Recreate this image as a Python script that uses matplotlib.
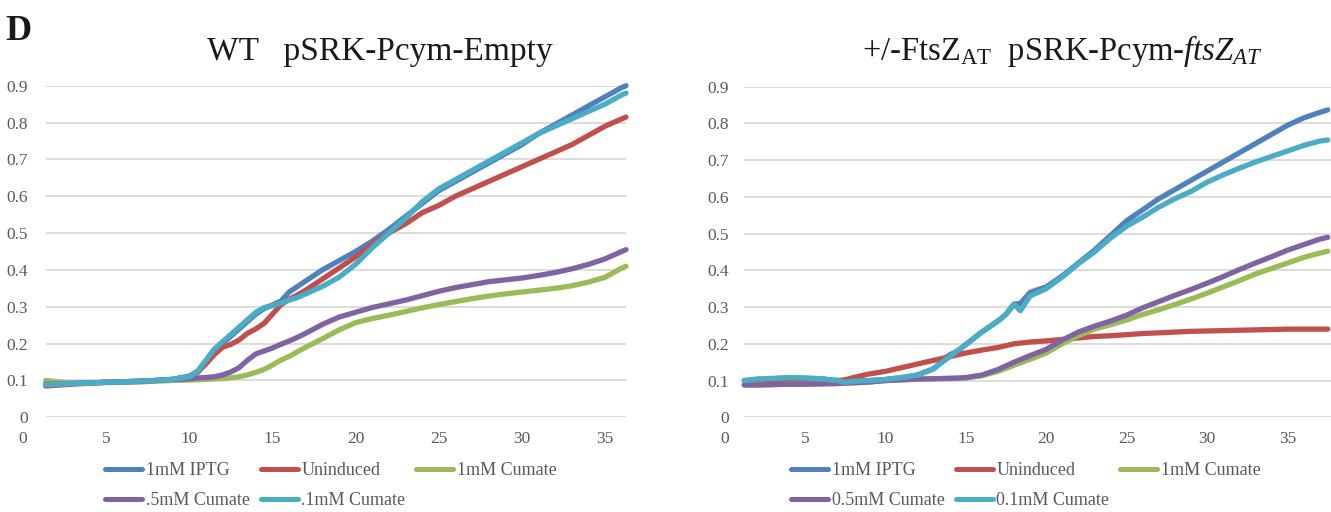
import matplotlib
matplotlib.use("Agg")
import matplotlib.pyplot as plt
from matplotlib.lines import Line2D

plt.rcParams['font.family'] = ['Liberation Serif', 'DejaVu Serif']
plt.rcParams['mathtext.fontset'] = 'custom'
plt.rcParams['mathtext.rm'] = 'Liberation Serif'
plt.rcParams['mathtext.it'] = 'Liberation Serif:italic'

# ---------------- data ----------------
left_labels = ["1mM IPTG", "Uninduced", "1mM Cumate", ".5mM Cumate", ".1mM Cumate"]
right_labels = ["1mM IPTG", "Uninduced", "1mM Cumate", "0.5mM Cumate", "0.1mM Cumate"]
colors = ["#4F81BD", "#C0504D", "#9BBB59", "#8064A2", "#4BACC6"]

yticks = [0, 0.1, 0.2, 0.3, 0.4, 0.5, 0.6, 0.7, 0.8, 0.9]
ytick_labels = ["0", "0.1", "0.2", "0.3", "0.4", "0.5", "0.6", "0.7", "0.8", "0.9"]
xticks = [0, 5, 10, 15, 20, 25, 30, 35]

# Left panel: WT pSRK-Pcym-Empty
t_left = [1.36, 3, 5, 7, 8, 9, 10, 10.5, 11, 11.5, 12, 12.5, 13, 13.5, 14, 14.5, 15,
          15.5, 16, 16.5, 17, 18, 19, 20, 21, 22, 23, 24, 25, 26, 27, 28, 29, 30,
          31, 32, 33, 34, 35, 36, 36.26]
L_iptg = [0.09, 0.092, 0.095, 0.098, 0.1, 0.103, 0.112, 0.125, 0.15, 0.18, 0.2, 0.22,
          0.24, 0.26, 0.28, 0.295, 0.305, 0.315, 0.34, 0.355, 0.37, 0.4, 0.425, 0.45,
          0.478, 0.51, 0.545, 0.58, 0.615, 0.64, 0.665, 0.69, 0.715, 0.74, 0.77, 0.795,
          0.82, 0.845, 0.87, 0.895, 0.9]
L_unind = [0.085, 0.09, 0.095, 0.098, 0.1, 0.103, 0.11, 0.122, 0.145, 0.17, 0.19, 0.198,
           0.21, 0.228, 0.24, 0.255, 0.28, 0.305, 0.32, 0.332, 0.345, 0.375, 0.405, 0.435,
           0.47, 0.5, 0.525, 0.555, 0.575, 0.6, 0.62, 0.64, 0.66, 0.68, 0.7, 0.72, 0.74,
           0.765, 0.79, 0.81, 0.815]
L_cum1 = [0.1, 0.092, 0.094, 0.096, 0.098, 0.1, 0.101, 0.102, 0.103, 0.104, 0.105, 0.107,
          0.11, 0.115, 0.122, 0.13, 0.142, 0.155, 0.165, 0.178, 0.19, 0.213, 0.237, 0.257,
          0.268, 0.277, 0.287, 0.297, 0.306, 0.314, 0.322, 0.329, 0.335, 0.34, 0.345,
          0.35, 0.357, 0.367, 0.38, 0.405, 0.41]
L_cum05 = [0.09, 0.092, 0.095, 0.097, 0.1, 0.102, 0.105, 0.107, 0.108, 0.11, 0.115, 0.123,
           0.135, 0.155, 0.172, 0.18, 0.188, 0.198, 0.207, 0.217, 0.228, 0.252, 0.272,
           0.285, 0.298, 0.308, 0.318, 0.33, 0.342, 0.352, 0.36, 0.368, 0.373, 0.378,
           0.385, 0.393, 0.403, 0.415, 0.43, 0.45, 0.455]
L_cum01 = [0.088, 0.092, 0.095, 0.098, 0.1, 0.103, 0.11, 0.125, 0.155, 0.185, 0.205, 0.225,
           0.245, 0.265, 0.285, 0.298, 0.303, 0.31, 0.318, 0.325, 0.335, 0.355, 0.38, 0.415,
           0.46, 0.5, 0.54, 0.585, 0.62, 0.645, 0.67, 0.695, 0.72, 0.745, 0.77, 0.79,
           0.81, 0.83, 0.85, 0.875, 0.88]

# Right panel: +/-FtsZ_AT pSRK-Pcym-ftsZ_AT
t_right = [1.24, 2, 3, 4, 5, 6, 7, 7.5, 8, 9, 10, 11, 12, 13, 14, 14.5, 15, 16, 17, 17.5,
           18, 18.4, 19, 20, 21, 22, 23, 24, 25, 26, 27, 28, 29, 30, 31, 32, 33, 34, 35,
           36, 37, 37.5]
R_iptg = [0.1, 0.103, 0.105, 0.107, 0.106, 0.105, 0.1, 0.097, 0.098, 0.1, 0.103, 0.108,
          0.115, 0.132, 0.17, 0.18, 0.198, 0.232, 0.262, 0.28, 0.308, 0.31, 0.34, 0.355,
          0.385, 0.42, 0.455, 0.495, 0.535, 0.565, 0.595, 0.62, 0.645, 0.67, 0.695, 0.72,
          0.745, 0.77, 0.795, 0.815, 0.83, 0.837]
R_unind = [0.1, 0.1, 0.1, 0.1, 0.1, 0.1, 0.1, 0.102, 0.108, 0.118, 0.125, 0.135, 0.145,
           0.155, 0.165, 0.17, 0.175, 0.183, 0.19, 0.195, 0.2, 0.202, 0.205, 0.208, 0.212,
           0.216, 0.22, 0.222, 0.225, 0.228, 0.23, 0.232, 0.234, 0.235, 0.236, 0.237,
           0.238, 0.239, 0.24, 0.24, 0.24, 0.24]
R_cum1 = [0.088, 0.088, 0.089, 0.09, 0.09, 0.091, 0.092, 0.093, 0.094, 0.096, 0.1, 0.102,
          0.104, 0.105, 0.106, 0.106, 0.107, 0.113, 0.125, 0.133, 0.142, 0.148, 0.158,
          0.175, 0.2, 0.222, 0.24, 0.252, 0.265, 0.28, 0.293, 0.307, 0.322, 0.338, 0.355,
          0.372, 0.39, 0.405, 0.42, 0.435, 0.447, 0.452]
R_cum05 = [0.088, 0.088, 0.089, 0.09, 0.09, 0.091, 0.092, 0.093, 0.094, 0.096, 0.1, 0.102,
           0.104, 0.105, 0.106, 0.107, 0.108, 0.115, 0.13, 0.14, 0.15, 0.157, 0.168, 0.185,
           0.21, 0.232, 0.248, 0.262, 0.278, 0.298, 0.315, 0.332, 0.348, 0.365, 0.383,
           0.402, 0.42, 0.437, 0.455, 0.47, 0.485, 0.49]
R_cum01 = [0.1, 0.104, 0.106, 0.108, 0.107, 0.105, 0.1, 0.095, 0.098, 0.1, 0.103, 0.108,
           0.115, 0.132, 0.165, 0.182, 0.197, 0.232, 0.262, 0.28, 0.308, 0.29, 0.33, 0.35,
           0.382, 0.418, 0.45, 0.488, 0.52, 0.545, 0.572, 0.595, 0.615, 0.64, 0.66, 0.678,
           0.695, 0.71, 0.725, 0.74, 0.752, 0.755]

# ---------------- figure ----------------
W, H = 1331, 512
fig = plt.figure(figsize=(W / 100, H / 100), dpi=100)

def px_axes(x0, x1, y_top, y_bot):
    return fig.add_axes([x0 / W, 1 - y_bot / H, (x1 - x0) / W, (y_bot - y_top) / H])

TEXT_GRAY = "#595959"
GRID = "#D9D9D9"

def style_axes(ax, xmax, gx0, gx1):
    ax.set_xlim(0, xmax)
    ax.set_ylim(0, 0.9)
    for s in ax.spines.values():
        s.set_visible(False)
    ax.set_yticks(yticks)
    ax.set_yticklabels(ytick_labels)
    ax.set_xticks(xticks)
    ax.set_xticklabels([str(v) for v in xticks])
    ax.tick_params(axis='y', length=0, pad=-3.6, labelsize=12.5, labelcolor=TEXT_GRAY)
    ax.tick_params(axis='x', length=0, pad=10, labelsize=12.5, labelcolor=TEXT_GRAY)
    ax.hlines(yticks, gx0, gx1, colors=GRID, linewidth=1.3, zorder=1)
    ax.patch.set_alpha(0)

def draw(ax, t, ys):
    for y, c in zip(ys, colors):
        ax.plot(t, y, color=c, linewidth=3.8, solid_capstyle='round',
                solid_joinstyle='round', zorder=3, clip_on=False)

axL = px_axes(23, 626, 85.7, 417.3)
style_axes(axL, 36.26, 1.36, 36.26)
draw(axL, t_left, [L_iptg, L_unind, L_cum1, L_cum05, L_cum01])

axR = px_axes(724.3, 1331, 86.7, 417.3)
style_axes(axR, 37.7, 1.24, 37.7)
draw(axR, t_right, [R_iptg, R_unind, R_cum1, R_cum05, R_cum01])

def add_legend(labels, cx, cy):
    handles = [Line2D([0], [0], color=c, linewidth=3.6, solid_capstyle='round')
               for c in colors]
    order = [0, 3, 1, 4, 2]
    fig.legend([handles[i] for i in order], [labels[i] for i in order],
               ncol=3, loc='center', bbox_to_anchor=(cx / W, 1 - cy / H),
               bbox_transform=fig.transFigure, frameon=False, fontsize=13,
               handlelength=2.05, handletextpad=0.2, columnspacing=0.6,
               labelspacing=0.72, borderpad=0.2, labelcolor=TEXT_GRAY)

add_legend(left_labels, 331, 485.5)
add_legend(right_labels, 1026, 485.5)

# titles
fig.text(380 / W, 1 - 60 / H, "WT   pSRK-Pcym-Empty", ha='center', va='baseline',
         fontsize=24, color="#1a1a1a")
fig.text(1062 / W, 1 - 60 / H,
         r"+/-FtsZ$_{\mathrm{AT}}$  pSRK-Pcym-$\mathit{ftsZ}_{\mathit{AT}}$",
         ha='center', va='baseline', fontsize=23.5, color="#1a1a1a")
fig.text(5 / W, 1 - 40 / H, "D", ha='left', va='baseline', fontsize=26,
         fontweight='bold', color="#1a1a1a")

fig.savefig("out.png", dpi=100)
